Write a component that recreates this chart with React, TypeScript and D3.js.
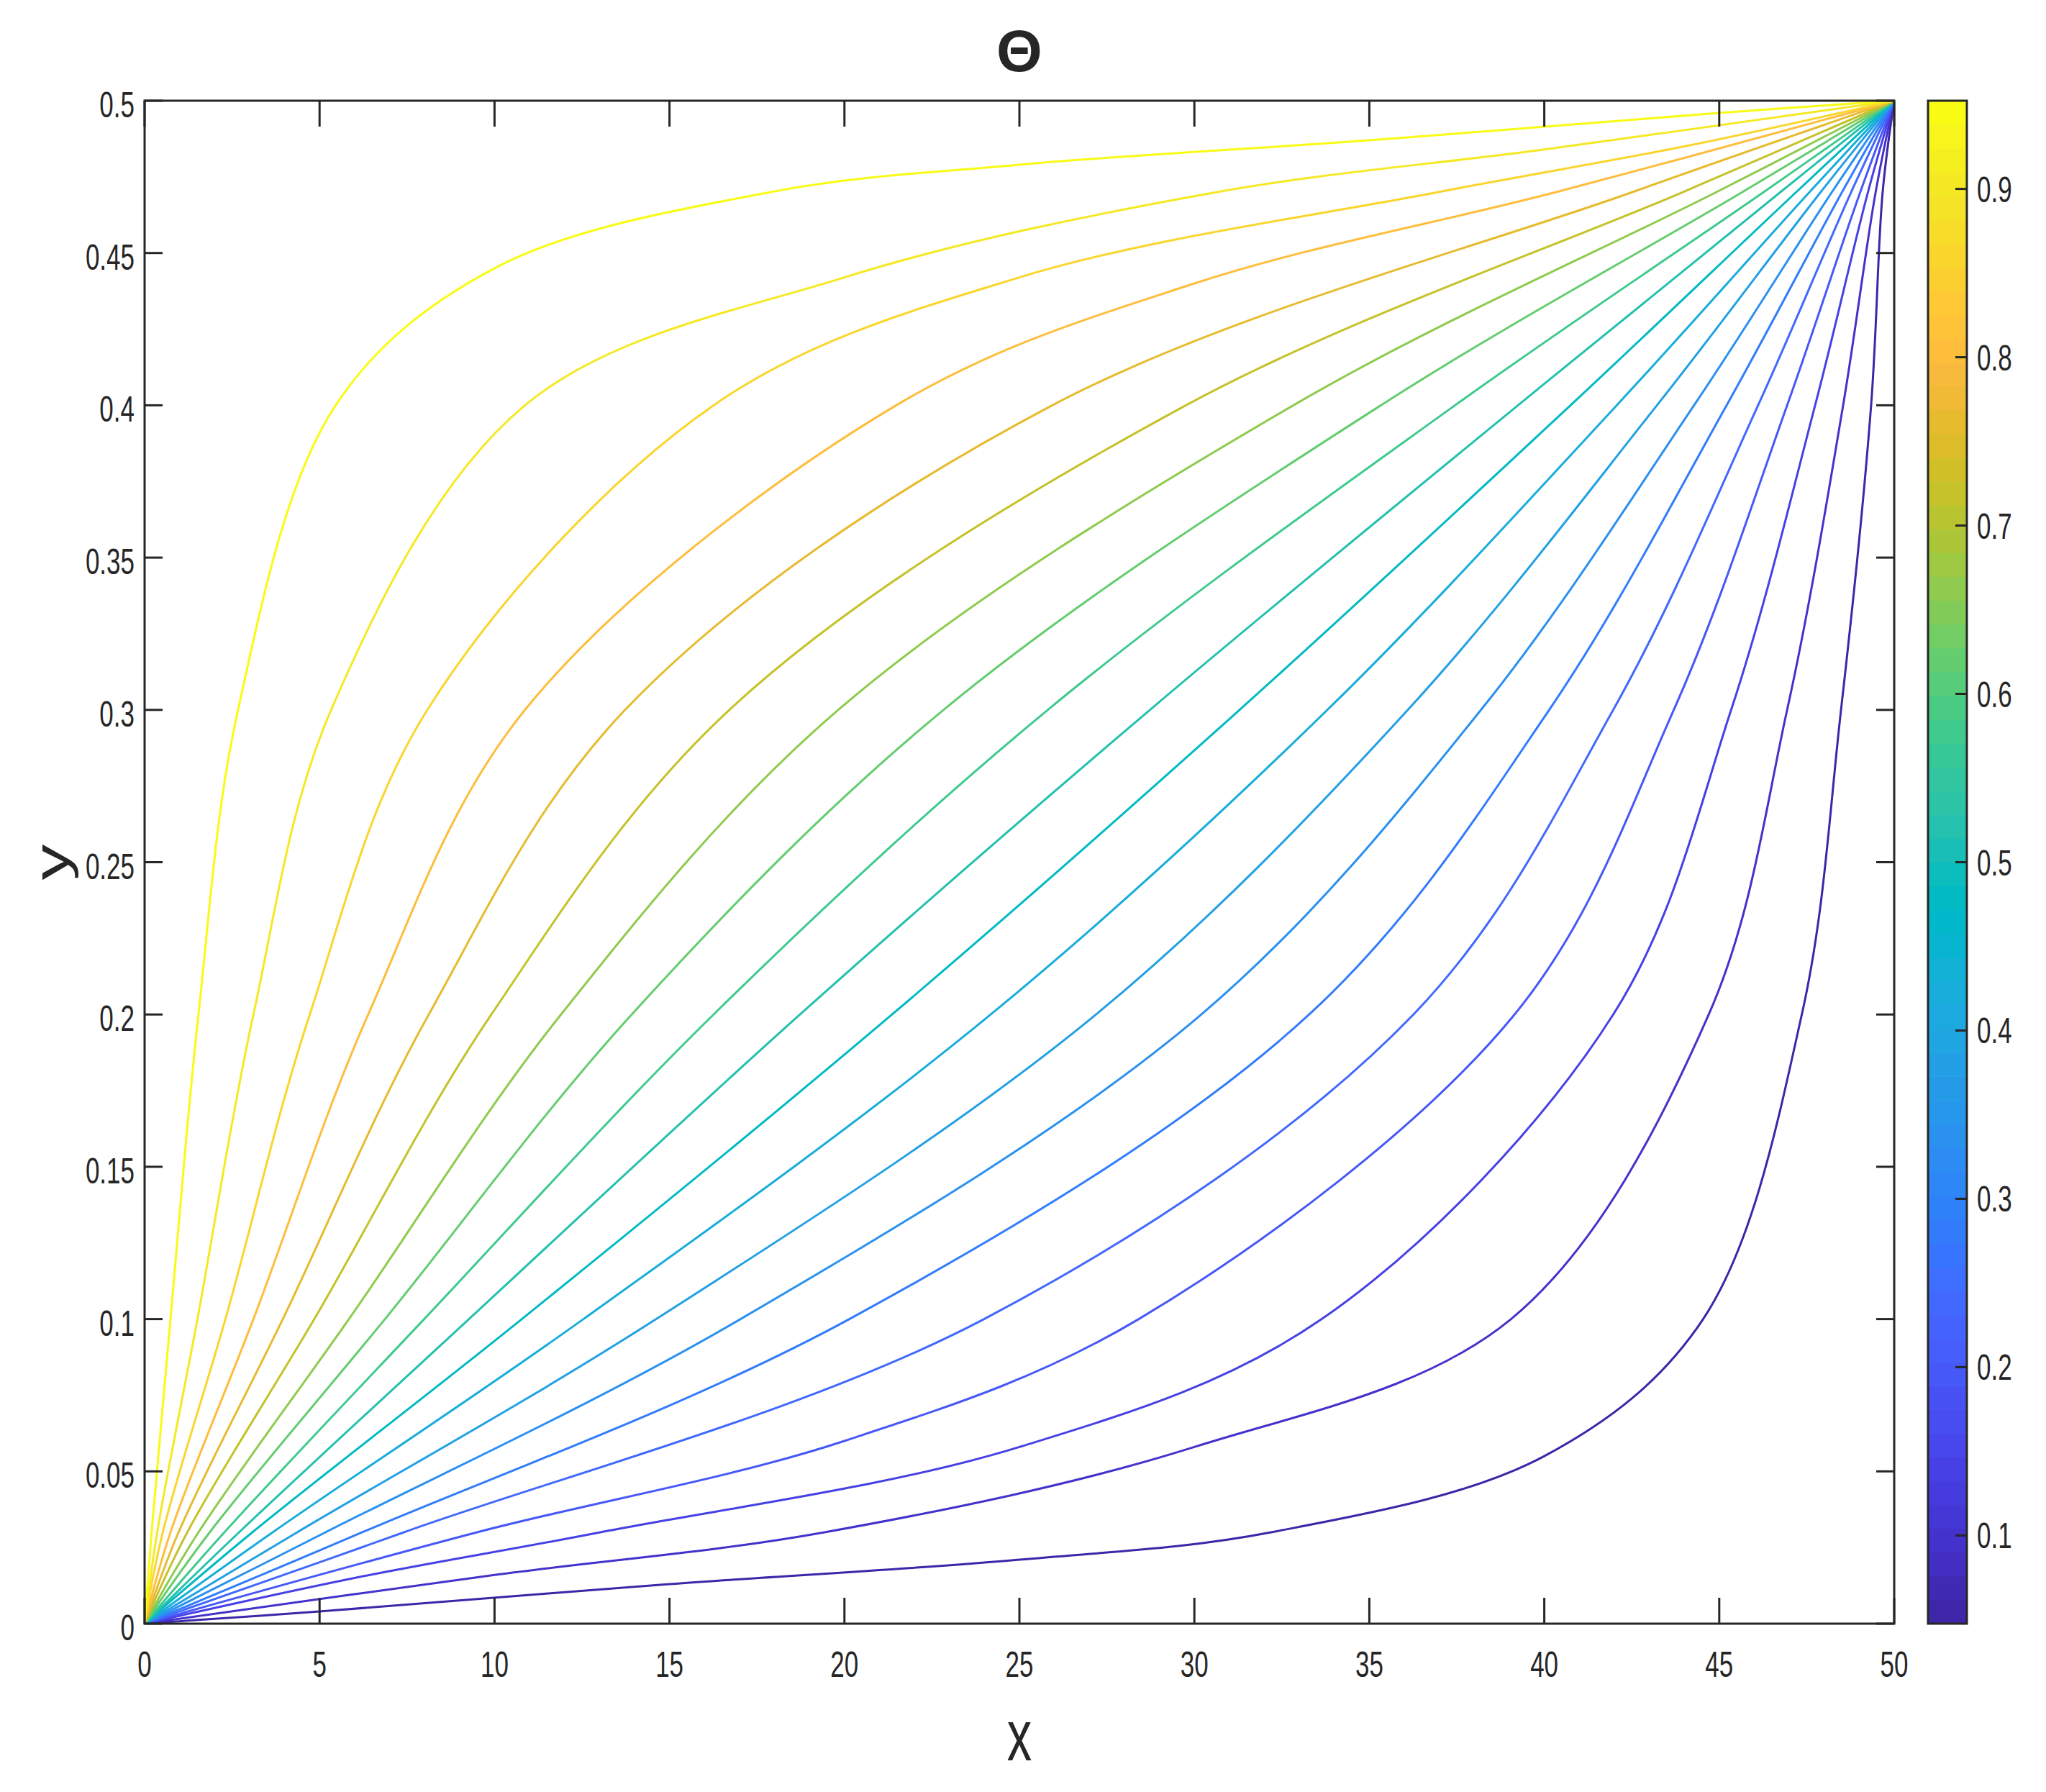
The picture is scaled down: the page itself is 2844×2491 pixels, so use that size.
import React from "react";
import * as d3 from "d3";

// ---------- data ----------
const contourLevels = [
  0.0476, 0.0952, 0.1429, 0.1905, 0.2381, 0.2857, 0.3333, 0.381, 0.4286, 0.4762,
  0.5238, 0.5714, 0.619, 0.6667, 0.7143, 0.7619, 0.8095, 0.8571, 0.9048, 0.9524,
];
const xTicks = [0, 5, 10, 15, 20, 25, 30, 35, 40, 45, 50];
const yTicks = [0, 0.05, 0.1, 0.15, 0.2, 0.25, 0.3, 0.35, 0.4, 0.45, 0.5];
const yTickLabels = ["0", "0.05", "0.1", "0.15", "0.2", "0.25", "0.3", "0.35", "0.4", "0.45", "0.5"];
const colorbarTicks = [0.1, 0.2, 0.3, 0.4, 0.5, 0.6, 0.7, 0.8, 0.9];
const colorbarRange = [0.0476, 0.9524];

// contour lines, [x, y] points from (0,0) to (50,0.5)
const line01: [number, number][] = [[0, 0], [5, 0.004], [15, 0.013], [25, 0.021], [32.19, 0.03], [40, 0.055], [44.54, 0.1], [47.36, 0.2], [48.48, 0.3], [49.34, 0.4], [49.67, 0.47], [50, 0.5]];
const line02: [number, number][] = [[0, 0], [10, 0.016], [19.43, 0.03], [30, 0.058], [39.05, 0.1], [44.7, 0.2], [46.94, 0.3], [48.54, 0.4], [49.47, 0.47], [50, 0.5]];
const line03: [number, number][] = [[0, 0], [6, 0.015], [13.02, 0.03], [25, 0.058], [33.64, 0.1], [41.97, 0.2], [45.34, 0.3], [47.74, 0.4], [49.25, 0.47], [50, 0.5]];
const line04: [number, number][] = [[0, 0], [9.5, 0.03], [20, 0.06], [28.41, 0.1], [39.15, 0.2], [43.7, 0.3], [46.94, 0.4], [49.03, 0.47], [50, 0.5]];
const line05: [number, number][] = [[0, 0], [7.41, 0.03], [23.99, 0.1], [36.26, 0.2], [41.97, 0.3], [46.11, 0.4], [48.77, 0.47], [50, 0.5]];
const line06: [number, number][] = [[0, 0], [6.22, 0.03], [20.14, 0.1], [33.28, 0.2], [40.14, 0.3], [45.21, 0.4], [48.51, 0.47], [50, 0.5]];
const line07: [number, number][] = [[0, 0], [5.17, 0.03], [17.03, 0.1], [30.2, 0.2], [38.19, 0.3], [44.28, 0.4], [48.22, 0.47], [50, 0.5]];
const line08: [number, number][] = [[0, 0], [4.36, 0.03], [14.62, 0.1], [27.19, 0.2], [36.1, 0.3], [43.22, 0.4], [47.9, 0.47], [50, 0.5]];
const line09: [number, number][] = [[0, 0], [3.66, 0.03], [12.54, 0.1], [24.18, 0.2], [33.8, 0.3], [42.07, 0.4], [47.58, 0.47], [50, 0.5]];
const line10: [number, number][] = [[0, 0], [3.08, 0.03], [10.78, 0.1], [21.36, 0.2], [31.29, 0.3], [40.75, 0.4], [47.2, 0.47], [50, 0.5]];
const line11: [number, number][] = [[0, 0], [2.7, 0.03], [9.27, 0.1], [18.73, 0.2], [28.73, 0.3], [39.25, 0.4], [46.75, 0.47], [50, 0.5]];
const line12: [number, number][] = [[0, 0], [2.28, 0.03], [7.99, 0.1], [16.26, 0.2], [25.81, 0.3], [37.45, 0.4], [46.27, 0.47], [50, 0.5]];
const line13: [number, number][] = [[0, 0], [1.86, 0.03], [6.87, 0.1], [13.92, 0.2], [22.83, 0.3], [35.33, 0.4], [45.66, 0.47], [50, 0.5]];
const line14: [number, number][] = [[0, 0], [1.54, 0.03], [5.84, 0.1], [11.9, 0.2], [19.82, 0.3], [32.83, 0.4], [44.92, 0.47], [50, 0.5]];
const line15: [number, number][] = [[0, 0], [1.22, 0.03], [4.85, 0.1], [9.91, 0.2], [16.71, 0.3], [29.76, 0.4], [43.96, 0.47], [50, 0.5]];
const line16: [number, number][] = [[0, 0], [0.97, 0.03], [3.95, 0.1], [8.12, 0.2], [13.73, 0.3], [25.94, 0.4], [42.52, 0.47], [50, 0.5]];
const line17: [number, number][] = [[0, 0], [0.74, 0.03], [3.11, 0.1], [6.39, 0.2], [10.87, 0.3], [21.48, 0.4], [30, 0.44], [40.34, 0.47], [50, 0.5]];
const line18: [number, number][] = [[0, 0], [0.52, 0.03], [2.31, 0.1], [4.72, 0.2], [8.08, 0.3], [16.26, 0.4], [25, 0.442], [36.97, 0.47], [44, 0.485], [50, 0.5]];
const line19: [number, number][] = [[0, 0], [0.36, 0.03], [1.51, 0.1], [3.11, 0.2], [5.33, 0.3], [10.87, 0.4], [20, 0.442], [30.65, 0.47], [40, 0.484], [50, 0.5]];
const line20: [number, number][] = [[0, 0], [0.2, 0.03], [0.74, 0.1], [1.54, 0.2], [2.67, 0.3], [5.46, 0.4], [10, 0.445], [17.89, 0.47], [25, 0.479], [35, 0.487], [45, 0.496], [50, 0.5]];

const contourLines = [line01, line02, line03, line04, line05, line06, line07, line08, line09, line10,
  line11, line12, line13, line14, line15, line16, line17, line18, line19, line20];

// MATLAB parula colormap (64 entries)
const parula: number[][] = [
  [0.2422, 0.1504, 0.6603], [0.2504, 0.165, 0.7076], [0.2578, 0.1818, 0.7511], [0.2647, 0.1978, 0.7952],
  [0.2706, 0.2147, 0.8364], [0.2751, 0.2342, 0.871], [0.2783, 0.2559, 0.8991], [0.2803, 0.2782, 0.9221],
  [0.2813, 0.3006, 0.9414], [0.281, 0.3228, 0.9579], [0.2795, 0.3447, 0.9717], [0.276, 0.3667, 0.9829],
  [0.2699, 0.3892, 0.9906], [0.2602, 0.4123, 0.9952], [0.244, 0.4358, 0.9988], [0.2206, 0.4603, 0.9973],
  [0.1963, 0.4847, 0.9892], [0.1834, 0.5074, 0.9798], [0.1786, 0.5289, 0.9682], [0.1764, 0.5499, 0.952],
  [0.1687, 0.5703, 0.9359], [0.154, 0.5902, 0.9218], [0.146, 0.6091, 0.9079], [0.138, 0.6276, 0.8973],
  [0.1248, 0.6459, 0.8883], [0.1113, 0.6635, 0.8763], [0.0952, 0.6798, 0.8598], [0.0689, 0.6948, 0.8394],
  [0.0297, 0.7082, 0.8163], [0.0036, 0.7203, 0.7917], [0.0067, 0.7312, 0.766], [0.0433, 0.7411, 0.7394],
  [0.0964, 0.75, 0.712], [0.1408, 0.7584, 0.6842], [0.1717, 0.767, 0.6554], [0.1938, 0.7758, 0.6251],
  [0.2161, 0.7843, 0.5923], [0.247, 0.7918, 0.5567], [0.2906, 0.7973, 0.5188], [0.3406, 0.8008, 0.4789],
  [0.3909, 0.8029, 0.4354], [0.4456, 0.8024, 0.3909], [0.5044, 0.7993, 0.348], [0.5616, 0.7942, 0.3045],
  [0.6174, 0.7876, 0.2612], [0.672, 0.7793, 0.2227], [0.7242, 0.7698, 0.191], [0.7738, 0.7598, 0.1646],
  [0.8203, 0.7498, 0.1535], [0.8634, 0.7406, 0.1596], [0.9035, 0.733, 0.1774], [0.9393, 0.7288, 0.21],
  [0.9728, 0.7298, 0.2394], [0.9956, 0.7434, 0.2371], [0.997, 0.7659, 0.2199], [0.9952, 0.7893, 0.2028],
  [0.9892, 0.8136, 0.1885], [0.9786, 0.8386, 0.1766], [0.9676, 0.8639, 0.1643], [0.961, 0.889, 0.1537],
  [0.9597, 0.9135, 0.1423], [0.9628, 0.9373, 0.1265], [0.9691, 0.9606, 0.1064], [0.9769, 0.9839, 0.0805],
];

// ---------- layout ----------
const W = 2844;
const H = 2491;
const plot = { left: 201, right: 2633, top: 140, bottom: 2257 };
const cbar = { left: 2680, right: 2734, top: 140, bottom: 2257 };
const STRETCH = 1.45;
const FONT = "'Liberation Sans', Arial, Helvetica, sans-serif";
const AXIS_COLOR = "#262626";

const rgb = (c: number[]) => d3.rgb(c[0] * 255, c[1] * 255, c[2] * 255).formatHex();
const colorFor = (v: number) => {
  const t = (v - colorbarRange[0]) / (colorbarRange[1] - colorbarRange[0]);
  const idx = Math.max(0, Math.min(parula.length - 1, Math.floor(t * parula.length)));
  return rgb(parula[idx]);
};

function SText(props: { x: number; y: number; size: number; anchor?: string; rotate?: number; weight?: string; stretch?: number; family?: string; children: React.ReactNode }) {
  const { x, y, size, anchor = "start", rotate = 0, weight = "normal", stretch = STRETCH, family = FONT, children } = props;
  return (
    <text
      transform={`translate(${x},${y}) scale(1,${stretch})${rotate ? ` rotate(${rotate})` : ""}`}
      fontSize={size}
      fontFamily={family}
      fontWeight={weight}
      textAnchor={anchor}
      fill={AXIS_COLOR}
    >
      {children}
    </text>
  );
}

export default function App() {
  const x = d3.scaleLinear().domain([0, 50]).range([plot.left, plot.right]);
  const y = d3.scaleLinear().domain([0, 0.5]).range([plot.bottom, plot.top]);
  const cy = d3.scaleLinear().domain(colorbarRange).range([cbar.bottom, cbar.top]);

  const lineGen = d3
    .line<[number, number]>()
    .x((d) => x(d[0]))
    .y((d) => y(d[1]))
    .curve(d3.curveCatmullRom.alpha(0.5));

  const tickLenX = 36;
  const tickLenY = 25;
  const cbTickLen = 16;
  const bandH = (cbar.bottom - cbar.top) / parula.length;

  return (
    <svg width={W} height={H} style={{ position: "absolute", left: 0, top: 0, background: "#fff" }}>
      <rect x={0} y={0} width={W} height={H} fill="#fff" />
      <defs>
        <clipPath id="plotClip">
          <rect x={plot.left} y={plot.top} width={plot.right - plot.left} height={plot.bottom - plot.top} />
        </clipPath>
      </defs>

      {/* contour lines */}
      <g clipPath="url(#plotClip)">
        {contourLines.map((pts, i) => (
          <path key={i} d={lineGen(pts) || ""} fill="none" stroke={colorFor(contourLevels[i])} strokeWidth={3} strokeLinejoin="round" />
        ))}
      </g>

      {/* axes frame and ticks */}
      <g stroke={AXIS_COLOR} strokeWidth={3} fill="none">
        <rect x={plot.left} y={plot.top} width={plot.right - plot.left} height={plot.bottom - plot.top} />
        {xTicks.map((t) => (
          <g key={`xt${t}`}>
            <line x1={x(t)} x2={x(t)} y1={plot.bottom} y2={plot.bottom - tickLenX} />
            <line x1={x(t)} x2={x(t)} y1={plot.top} y2={plot.top + tickLenX} />
          </g>
        ))}
        {yTicks.map((t) => (
          <g key={`yt${t}`}>
            <line x1={plot.left} x2={plot.left + tickLenY} y1={y(t)} y2={y(t)} />
            <line x1={plot.right} x2={plot.right - tickLenY} y1={y(t)} y2={y(t)} />
          </g>
        ))}
      </g>

      {/* tick labels */}
      {xTicks.map((t) => (
        <SText key={`xl${t}`} x={x(t)} y={plot.bottom + 74} size={35} anchor="middle">
          {String(t)}
        </SText>
      ))}
      {yTicks.map((t, i) => (
        <SText key={`yl${t}`} x={187} y={y(t) + 23} size={35} anchor="end">
          {yTickLabels[i]}
        </SText>
      ))}

      {/* axis labels and title */}
      <SText x={x(25)} y={2447} size={69} anchor="middle">x</SText>
      <SText x={95} y={y(0.25)} size={69} anchor="middle" rotate={-90}>y</SText>
      <SText x={x(25)} y={99} size={82} anchor="middle" weight="bold" stretch={1}>Θ</SText>

      {/* colorbar */}
      <g>
        {parula.map((c, i) => (
          <rect key={`cb${i}`} x={cbar.left} width={cbar.right - cbar.left} y={cbar.bottom - (i + 1) * bandH} height={bandH + 0.6} fill={rgb(c)} />
        ))}
        <rect x={cbar.left} y={cbar.top} width={cbar.right - cbar.left} height={cbar.bottom - cbar.top} fill="none" stroke={AXIS_COLOR} strokeWidth={3} />
        {colorbarTicks.map((t) => (
          <g key={`cbt${t}`}>
            <line x1={cbar.right} x2={cbar.right - cbTickLen} y1={cy(t)} y2={cy(t)} stroke={AXIS_COLOR} strokeWidth={3} />
            <SText x={2748} y={cy(t) + 18} size={35}>
              {String(t)}
            </SText>
          </g>
        ))}
      </g>
    </svg>
  );
}
